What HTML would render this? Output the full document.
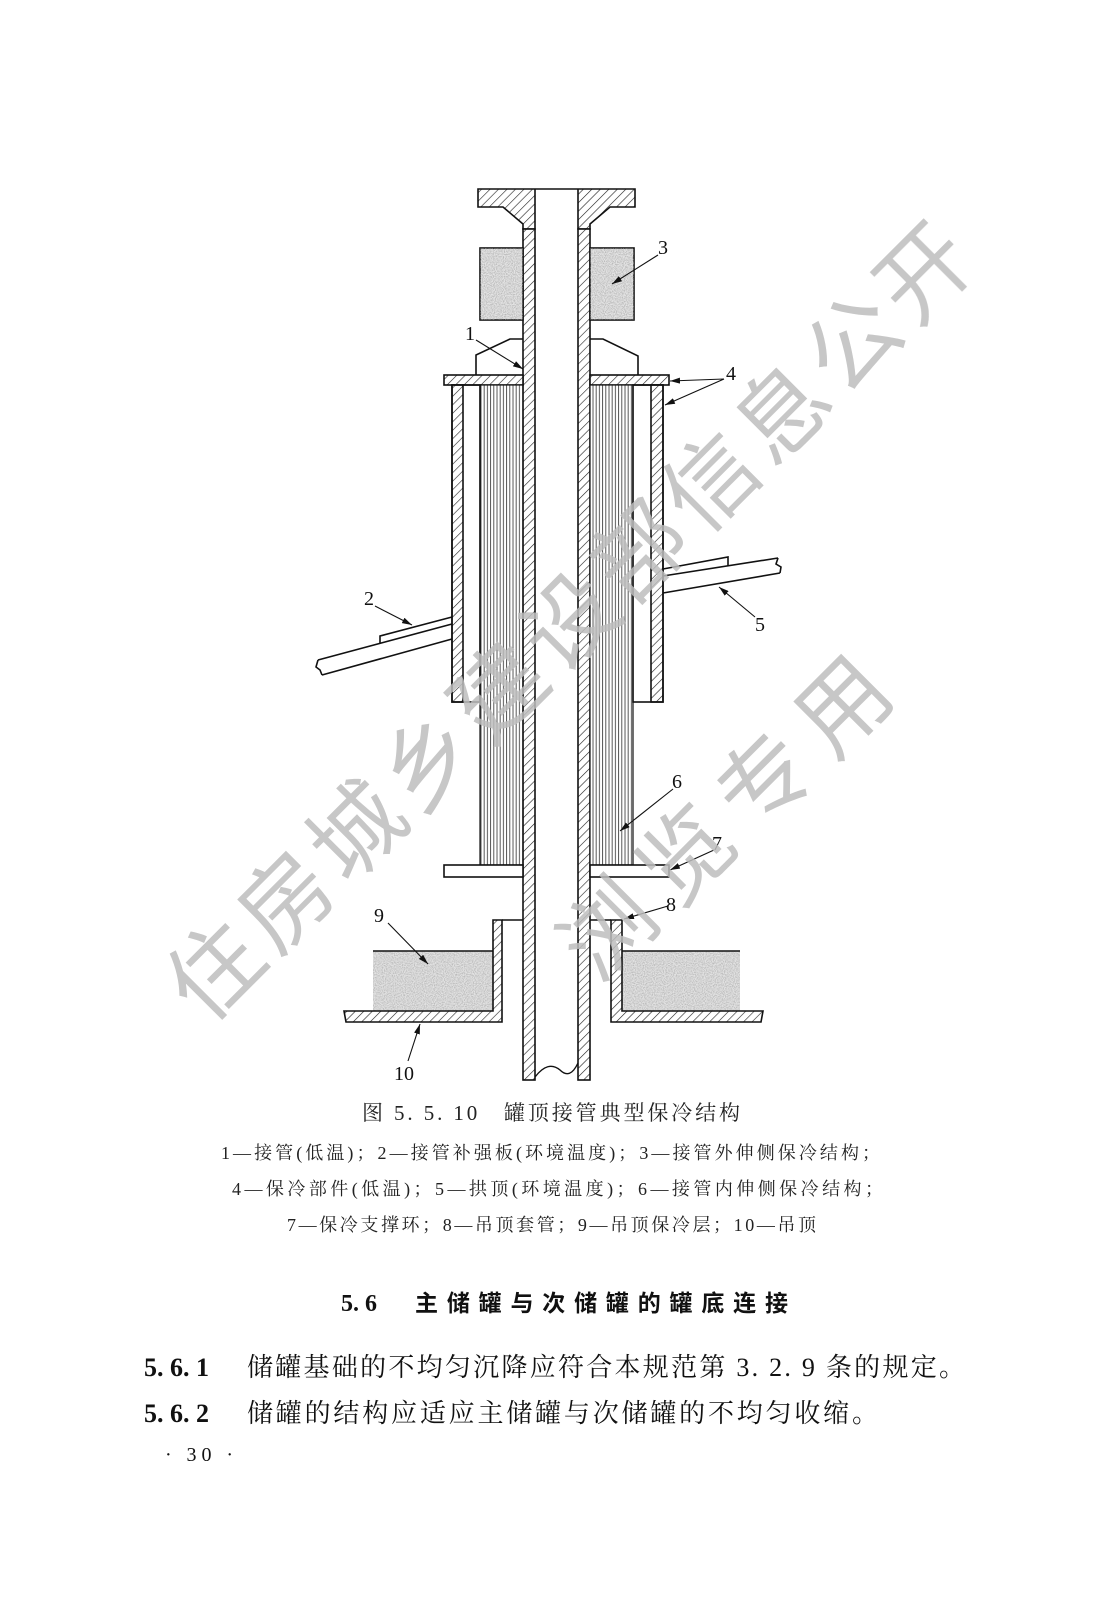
<!DOCTYPE html>
<html><head><meta charset="utf-8"><style>
html,body{margin:0;padding:0;background:#fff;}
body{width:1102px;height:1598px;position:relative;overflow:hidden;font-family:"Liberation Serif","Noto Serif CJK SC",serif;color:#111;}
svg{position:absolute;left:0;top:0;}
</style></head><body>
<svg width="1102" height="1598" viewBox="0 0 1102 1598" xmlns="http://www.w3.org/2000/svg">
<defs>
<pattern id="h" width="6" height="6" patternUnits="userSpaceOnUse" patternTransform="rotate(45)">
<rect width="6" height="6" fill="#fff"/><line x1="0" y1="0" x2="0" y2="6" stroke="#222" stroke-width="1.2"/></pattern>
<pattern id="v" width="3.2" height="10" patternUnits="userSpaceOnUse">
<rect width="3.2" height="10" fill="#fff"/><line x1="1" y1="0" x2="1" y2="10" stroke="#444" stroke-width="0.9"/></pattern>
<filter id="sand" x="0" y="0" width="100%" height="100%">
<feTurbulence type="fractalNoise" baseFrequency="0.9" numOctaves="1" seed="3"/>
<feColorMatrix values="0 0 0 0 0.4  0 0 0 0 0.4  0 0 0 0 0.4  0 0 0 -2.2 1.4"/>
</filter>
<marker id="a" viewBox="0 0 10 6" refX="10" refY="3" markerWidth="10" markerHeight="6" markerUnits="userSpaceOnUse" orient="auto">
<path d="M0,0 L10,3 L0,6 Z" fill="#111"/></marker>
</defs>
<g stroke="#111" stroke-width="1.6" fill="none">
<!-- flange -->
<path d="M478,189 H635 V207 H610 L590,224 V229 H578 V189 H535 V229 H523 V224 L503,207 H478 Z" fill="url(#h)"/>
<!-- pipe walls -->
<rect x="523" y="229" width="12" height="851" fill="url(#h)"/>
<rect x="578" y="229" width="12" height="851" fill="url(#h)"/>
<path d="M535,1077 Q548,1060 560,1070 Q570,1080 578,1063" stroke-width="1.4"/>
<!-- block 3 -->
<rect x="480" y="248" width="43" height="72" fill="#e4e4e4"/>
<rect x="590" y="248" width="44" height="72" fill="#e4e4e4"/>
<rect x="480" y="248" width="43" height="72" fill="#fff" filter="url(#sand)" stroke="none" opacity="0.9"/>
<rect x="590" y="248" width="44" height="72" fill="#fff" filter="url(#sand)" stroke="none" opacity="0.9"/>
<!-- pads -->
<path d="M523,339 H510 L476,355 V375"/>
<path d="M590,339 H603 L638,356 V375"/>
<!-- plate 4 -->
<rect x="444" y="375" width="79" height="10" fill="url(#h)"/>
<rect x="590" y="375" width="79" height="10" fill="url(#h)"/>
<!-- insulation 6 -->
<rect x="480" y="385" width="43" height="480" fill="url(#v)" stroke-width="1.2"/>
<rect x="590" y="385" width="43" height="480" fill="url(#v)" stroke-width="1.2"/>
<!-- shell walls -->
<rect x="452" y="385" width="11" height="317" fill="url(#h)"/>
<rect x="651" y="385" width="12" height="317" fill="url(#h)"/>
<rect x="452" y="385" width="28" height="317"/>
<rect x="633" y="385" width="30" height="317"/>
<!-- plate 7 -->
<rect x="444" y="865" width="79" height="12" fill="#fff"/>
<rect x="590" y="865" width="79" height="12" fill="#fff"/>
<!-- pipe 2 -->
<path d="M452,624 L318,660 M452,639 L322,675"/>
<path d="M318,660 L316,667 L320,670 L322,675"/>
<path d="M380,643 L380,636 L452,617"/>
<!-- pipe 5 -->
<path d="M663,576 L778,558 M663,593 L780,573"/>
<path d="M778,558 L776,564 L781,567 L780,573"/>
<path d="M728,566 L728,557 L663,569"/>
<!-- insulation 9 -->
<rect x="373" y="951" width="120" height="60" fill="#e2e2e2" stroke="none"/>
<rect x="622" y="951" width="118" height="60" fill="#e2e2e2" stroke="none"/>
<rect x="373" y="951" width="120" height="60" fill="#fff" filter="url(#sand)" stroke="none" opacity="0.85"/>
<rect x="622" y="951" width="118" height="60" fill="#fff" filter="url(#sand)" stroke="none" opacity="0.85"/>
<line x1="373" y1="951" x2="493" y2="951"/><line x1="622" y1="951" x2="740" y2="951"/>
<!-- sleeve 8 + roof 10 -->
<path d="M344,1011 H493 V920 H502 V1022 H346 Z" fill="url(#h)"/>
<path d="M763,1011 H622 V920 H611 V1022 H761 Z" fill="url(#h)"/>
<line x1="502" y1="920" x2="523" y2="920"/><line x1="590" y1="920" x2="611" y2="920"/>
</g>
<!-- leaders -->
<g stroke="#111" stroke-width="1.1" fill="none" marker-end="url(#a)">
<line x1="476" y1="340" x2="523" y2="369"/>
<line x1="375" y1="606" x2="412" y2="625"/>
<line x1="658" y1="255" x2="612" y2="284"/>
<line x1="724" y1="379" x2="670" y2="381"/><line x1="724" y1="379" x2="665" y2="405"/>
<line x1="755" y1="617" x2="719" y2="587"/>
<line x1="673" y1="789" x2="620" y2="831"/>
<line x1="714" y1="850" x2="670" y2="870"/>
<line x1="668" y1="906" x2="624" y2="919"/>
<line x1="388" y1="923" x2="428" y2="964"/>
<line x1="408" y1="1061" x2="420" y2="1024"/>
</g>
<g font-family="Liberation Serif, serif" font-size="20" fill="#111" text-anchor="middle">
<text x="470" y="340">1</text><text x="369" y="605">2</text><text x="663" y="254">3</text>
<text x="731" y="380">4</text><text x="760" y="631">5</text><text x="677" y="788">6</text>
<text x="717" y="850">7</text><text x="671" y="911">8</text><text x="379" y="922">9</text>
<text x="404" y="1080">10</text>
</g>
<!-- watermark -->
<g font-family="Noto Sans CJK SC, sans-serif" font-size="92" fill="#bdbdbd" opacity="0.85" text-anchor="middle">
<text transform="translate(238,994) rotate(-45)">住</text>
<text transform="translate(309,924) rotate(-45)">房</text>
<text transform="translate(380,854) rotate(-45)">城</text>
<text transform="translate(451,785) rotate(-45)">乡</text>
<text transform="translate(522,715) rotate(-45)">建</text>
<text transform="translate(593,645) rotate(-45)">设</text>
<text transform="translate(663,575) rotate(-45)">部</text>
<text transform="translate(734,505) rotate(-45)">信</text>
<text transform="translate(805,436) rotate(-45)">息</text>
<text transform="translate(876,366) rotate(-45)">公</text>
<text transform="translate(947,296) rotate(-45)">开</text>
<text transform="translate(631,953) rotate(-45)">浏</text>
<text transform="translate(709,878) rotate(-45)">览</text>
<text transform="translate(788,804) rotate(-45)">专</text>
<text transform="translate(866,729) rotate(-45)">用</text>
</g>
<g font-family="Liberation Serif, Noto Serif CJK SC, serif" fill="#222">
<text x="362" y="1120" font-size="21" textLength="378" lengthAdjust="spacing">图 5. 5. 10　罐顶接管典型保冷结构</text>
<text x="221" y="1159" font-size="18" textLength="659" lengthAdjust="spacing">1—接管(低温)；2—接管补强板(环境温度)；3—接管外伸侧保冷结构；</text>
<text x="232" y="1195" font-size="18" textLength="651" lengthAdjust="spacing">4—保冷部件(低温)；5—拱顶(环境温度)；6—接管内伸侧保冷结构；</text>
<text x="287" y="1231" font-size="18" textLength="529" lengthAdjust="spacing">7—保冷支撑环；8—吊顶套管；9—吊顶保冷层；10—吊顶</text>
</g>
<text x="341" y="1311" font-family="Liberation Serif, serif" font-size="24" font-weight="bold" fill="#111">5. 6</text>
<text x="415" y="1311" font-family="Noto Sans CJK SC, sans-serif" font-size="23" font-weight="bold" fill="#111" textLength="373" lengthAdjust="spacing">主储罐与次储罐的罐底连接</text>
<g font-size="26" fill="#111">
<text x="144" y="1376" font-weight="bold" font-family="Liberation Serif, serif">5. 6. 1</text>
<text x="247" y="1376" font-family="Liberation Serif, Noto Serif CJK SC, serif" textLength="718" lengthAdjust="spacing">储罐基础的不均匀沉降应符合本规范第 3. 2. 9 条的规定。</text>
<text x="144" y="1422" font-weight="bold" font-family="Liberation Serif, serif">5. 6. 2</text>
<text x="247" y="1422" font-family="Liberation Serif, Noto Serif CJK SC, serif" textLength="631" lengthAdjust="spacing">储罐的结构应适应主储罐与次储罐的不均匀收缩。</text>
</g>
<text x="165" y="1461" font-size="20" font-family="Liberation Serif, serif" fill="#111" textLength="68" lengthAdjust="spacing">· 30 ·</text>
</svg>
</body></html>
